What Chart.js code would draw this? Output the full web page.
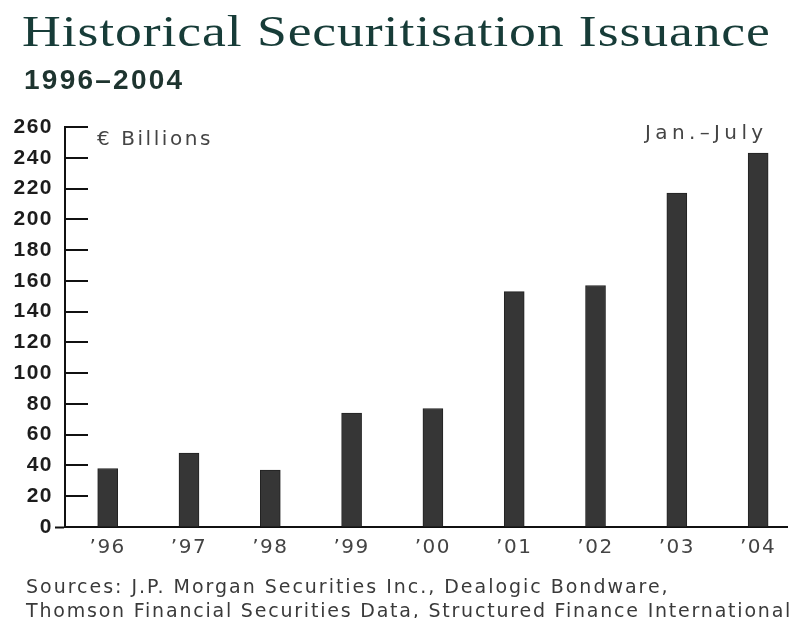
<!DOCTYPE html>
<html>
<head>
<meta charset="utf-8">
<script src="https://cdn.jsdelivr.net/npm/chart.js@4/dist/chart.umd.min.js"></script>
<style>
  html, body { margin: 0; padding: 0; background: #fff; }
  #wrap { position: relative; width: 795px; height: 618px; overflow: hidden; }
  #chart { position: absolute; left: 0; top: 0; }
  .txt { position: absolute; white-space: nowrap; line-height: 1; margin: 0; }
  #title { left: 22px; top: 6px; font: 44px "Liberation Serif", serif; color: #173c38;
           transform-origin: 0 0; transform: scaleX(1.22); }
  #subtitle { left: 24px; top: 64px; font: bold 28px "Liberation Sans", sans-serif; color: #1e342f; }
  #unit { left: 97px; top: 126px; font: 20px "DejaVu Sans", sans-serif; color: #444; }
  #note { left: 645px; top: 120px; font: 20px "DejaVu Sans", sans-serif; color: #444; }
  .src { left: 26px; font: 19px "DejaVu Sans", sans-serif; color: #3a3a3a; }
  #src1 { top: 575px; }
  #src2 { top: 599px; }
</style>
</head>
<body>
<div id="wrap">
  <canvas id="chart" width="795" height="618"></canvas>
  <div class="txt" id="title">Historical Securitisation Issuance</div>
  <div class="txt" id="subtitle">1996–2004</div>
  <div class="txt" id="unit">€ Billions</div>
  <div class="txt" id="note">Jan.–July</div>
  <div class="txt src" id="src1">Sources: J.P. Morgan Securities Inc., Dealogic Bondware,</div>
  <div class="txt src" id="src2">Thomson Financial Securities Data, Structured Finance International</div>
</div>
<script>
// Issuance by year, € billions (2004 covers Jan.–July only)
const years = ['’96', '’97', '’98', '’99', '’00', '’01', '’02', '’03', '’04'];
const issuance = [38, 48, 37, 74, 77, 153, 157, 217, 243];
const yTickValues = [0, 20, 40, 60, 80, 100, 120, 140, 160, 180, 200, 220, 240, 260];

// spread a line of text out to a given width
function track(id, width, scale) {
  const el = document.getElementById(id);
  const n = el.textContent.length;
  const w = el.offsetWidth;
  const ls = (width / (scale || 1) - w) / (n - 1);
  el.style.letterSpacing = ls.toFixed(2) + 'px';
}
track('title', 748, 1.22);
track('subtitle', 158);
track('unit', 113);
track('note', 118);
track('src1', 642);
track('src2', 764);

// short tick marks pointing into the plot from the value axis
const innerTicks = {
  id: 'innerTicks',
  afterDatasetsDraw(chart) {
    const y = chart.scales.y;
    const left = chart.chartArea.left;
    const ctx = chart.ctx;
    ctx.save();
    ctx.strokeStyle = '#111';
    ctx.lineWidth = 2;
    ctx.beginPath();
    yTickValues.forEach(v => {
      if (v === 0) return;
      const py = Math.round(y.getPixelForValue(v));
      ctx.moveTo(left, py);
      ctx.lineTo(left + 23, py);
    });
    ctx.stroke();
    ctx.restore();
  }
};

const tracking = {
  id: 'tracking',
  beforeDraw(chart) { chart.ctx.letterSpacing = '1.5px'; },
  afterDraw(chart) { chart.ctx.letterSpacing = '0px'; }
};

new Chart(document.getElementById('chart'), {
  type: 'bar',
  data: {
    datasets: [{
      data: issuance.map((v, i) => ({ x: i, y: v })),
      backgroundColor: '#363636',
      borderColor: '#222',
      borderWidth: 1,
      barThickness: 20
    }]
  },
  options: {
    responsive: false,
    animation: false,
    devicePixelRatio: 1,
    layout: { autoPadding: false, padding: { top: 127, right: 8, bottom: 51, left: 0 } },
    plugins: { legend: { display: false }, tooltip: { enabled: false } },
    scales: {
      x: {
        type: 'linear',
        offset: false,
        min: -0.525,
        max: 8.355,
        afterBuildTicks: s => { s.ticks = years.map((_, i) => ({ value: i })); },
        afterFit: s => { s.height = 40; },
        ticks: {
          callback: v => years[v],
          autoSkip: false,
          maxRotation: 0,
          padding: 9,
          color: '#444',
          font: { family: 'DejaVu Sans', size: 20 }
        },
        grid: { display: false, drawTicks: false },
        border: { color: '#111', width: 2 }
      },
      y: {
        min: 0,
        max: 260,
        afterBuildTicks: s => { s.ticks = yTickValues.map(v => ({ value: v })); },
        afterFit: s => { s.width = 65; },
        ticks: {
          padding: 2,
          color: '#1c1c1c',
          font: { family: 'Liberation Sans', size: 21, weight: 'bold' }
        },
        grid: {
          drawOnChartArea: false,
          drawTicks: true,
          tickLength: 10,
          tickWidth: 2,
          tickColor: c => (c.tick && c.tick.value === 0 ? '#111' : 'rgba(0,0,0,0)')
        },
        border: { color: '#111', width: 2 }
      }
    }
  },
  plugins: [innerTicks, tracking]
});
</script>
</body>
</html>
